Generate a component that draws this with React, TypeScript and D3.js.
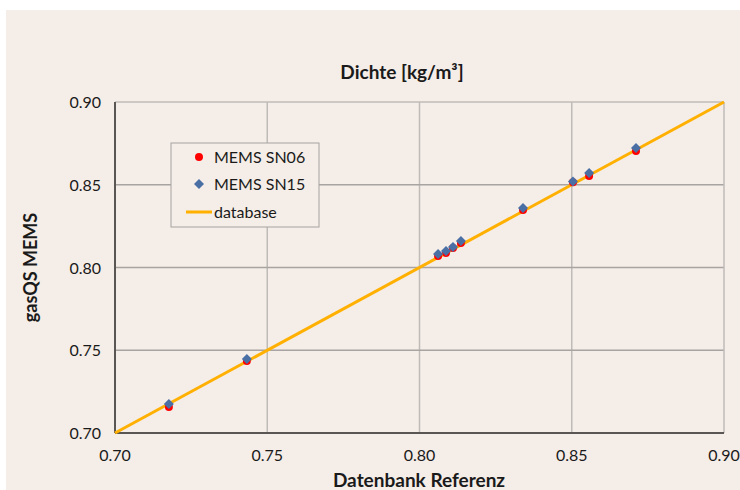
import React from "react";
import * as d3 from "d3";

const refX = [0.7177, 0.7433, 0.8061, 0.8087, 0.811, 0.8136, 0.834, 0.8504, 0.8557, 0.8711];
const sn06 = [0.7157, 0.7435, 0.8069, 0.8088, 0.8118, 0.8148, 0.8347, 0.8515, 0.8553, 0.8704];
const sn15 = [0.7175, 0.7447, 0.8081, 0.81, 0.8124, 0.816, 0.836, 0.8519, 0.8571, 0.8722];
const dbLine = [0.7, 0.9];
const xTicks = [0.7, 0.75, 0.8, 0.85, 0.9];
const yTicks = [0.7, 0.75, 0.8, 0.85, 0.9];
const legendLabels = ["MEMS SN06", "MEMS SN15", "database"];

const W = 740;
const H = 490;
const plot = { left: 115, right: 724, top: 102, bottom: 433 };
const FONT = "Lato, 'Open Sans', sans-serif";

export default function App() {
  const x = d3.scaleLinear().domain([0.7, 0.9]).range([plot.left, plot.right]);
  const y = d3.scaleLinear().domain([0.7, 0.9]).range([plot.bottom, plot.top]);
  const line = d3.line<number>().x((d) => x(d)).y((d) => y(d));
  const diamond = d3.symbol().type(d3.symbolSquare).size(50)() as string;
  const circle = d3.symbol().type(d3.symbolCircle).size(50)() as string;

  return (
    <svg width={W} height={H} style={{ position: "absolute", left: 0, top: 0 }} fontFamily={FONT}>
      <rect x={6} y={10} width={W - 6} height={H - 10} fill="#F5EDE7" />
      {/* grid */}
      {xTicks.slice(1, -1).map((t) => (
        <line key={"gx" + t} x1={x(t)} x2={x(t)} y1={plot.top} y2={plot.bottom} stroke="#BFBBB8" strokeWidth={1.5} />
      ))}
      {yTicks.slice(1, -1).map((t) => (
        <line key={"gy" + t} x1={plot.left} x2={plot.right} y1={y(t)} y2={y(t)} stroke="#A8A4A1" strokeWidth={1.5} />
      ))}
      <line x1={plot.left} x2={plot.right} y1={plot.top} y2={plot.top} stroke="#BFBBB8" strokeWidth={1.5} />
      <line x1={plot.right} x2={plot.right} y1={plot.top} y2={plot.bottom} stroke="#BFBBB8" strokeWidth={1.5} />
      <line x1={plot.left} x2={plot.left} y1={plot.top} y2={plot.bottom} stroke="#5A5654" strokeWidth={2} />
      <line x1={plot.left} x2={plot.right} y1={plot.bottom} y2={plot.bottom} stroke="#5A5654" strokeWidth={2} />
      {/* tick labels */}
      {xTicks.map((t) => (
        <text key={"xt" + t} x={x(t)} y={461} textAnchor="middle" fontSize={16} fill="#1a1a1a">
          {t.toFixed(2)}
        </text>
      ))}
      {yTicks.map((t) => (
        <text key={"yt" + t} x={101} y={y(t) + 6} textAnchor="end" fontSize={16} fill="#1a1a1a">
          {t.toFixed(2)}
        </text>
      ))}
      {/* titles */}
      <text x={402} y={79} textAnchor="middle" fontSize={19} fontWeight="bold" fill="#1a1a1a">
        Dichte [kg/m³]
      </text>
      <text x={419} y={487} textAnchor="middle" fontSize={19} fontWeight="bold" fill="#1a1a1a">
        Datenbank Referenz
      </text>
      <text transform={`translate(37,${(plot.top + plot.bottom) / 2}) rotate(-90)`} textAnchor="middle" fontSize={18} fontWeight="bold" fill="#1a1a1a">
        gasQS MEMS
      </text>
      {/* database line */}
      <path d={line(dbLine) as string} fill="none" stroke="#FFB000" strokeWidth={3} />
      {/* SN06 */}
      {refX.map((v, i) => (
        <path key={"a" + i} d={circle} transform={`translate(${x(v)},${y(sn06[i])})`} fill="#FF0000" />
      ))}
      {/* SN15 */}
      {refX.map((v, i) => (
        <path key={"b" + i} d={diamond} transform={`translate(${x(v)},${y(sn15[i])}) rotate(45)`} fill="#4A6FA5" />
      ))}
      {/* legend */}
      <rect x={171} y={143} width={148} height={84} fill="#F5EDE7" stroke="#A6A3A0" strokeWidth={1} />
      <path d={circle} transform="translate(199,157)" fill="#FF0000" />
      <text x={214} y={163} fontSize={16} fill="#1a1a1a">{legendLabels[0]}</text>
      <path d={diamond} transform="translate(199,184) rotate(45)" fill="#4A6FA5" />
      <text x={214} y={190} fontSize={16} fill="#1a1a1a">{legendLabels[1]}</text>
      <line x1={186} x2={212} y1={212} y2={212} stroke="#FFB000" strokeWidth={3} />
      <text x={214} y={218} fontSize={16} fill="#1a1a1a">{legendLabels[2]}</text>
    </svg>
  );
}
